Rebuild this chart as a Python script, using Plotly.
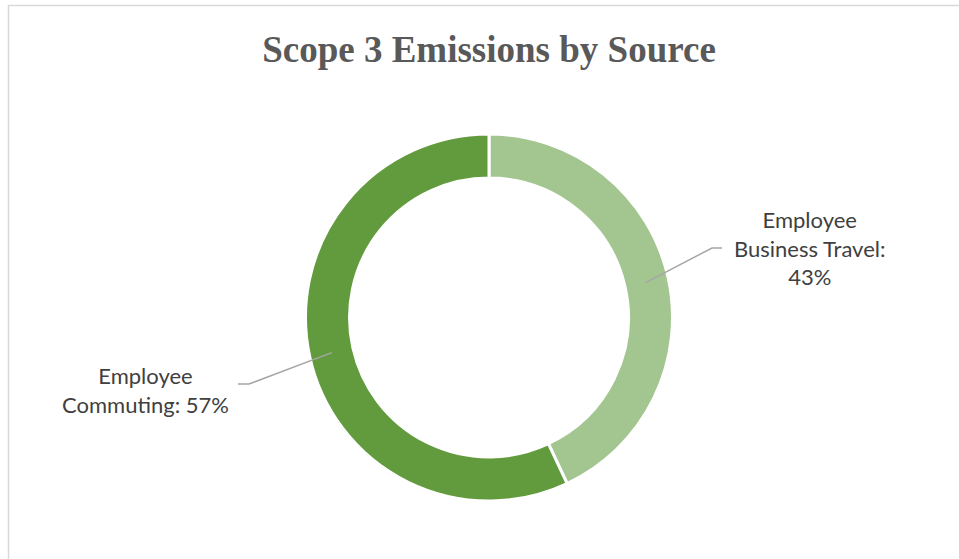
import math
import plotly.graph_objects as go

# Scope 3 emission shares by source
sources = ["Employee Business Travel", "Employee Commuting"]
shares = [43, 57]
colors = ["#A3C590", "#629B3E"]
label_lines = [["Employee", "Business Travel:"], ["Employee", "Commuting:"]]

W, H = 959, 559
cx, cy = 489, 317.5          # donut centre (px)
r_out = 183.5                # outer radius (px)
hole = 0.76

fig = go.Figure(go.Pie(
    labels=sources,
    values=shares,
    sort=False,
    direction="clockwise",
    rotation=0,
    hole=hole,
    marker=dict(colors=colors, line=dict(color="white", width=3)),
    textinfo="none",
    hoverinfo="label+percent",
    showlegend=False,
    domain=dict(x=[(cx - r_out) / W, (cx + r_out) / W],
                y=[(H - cy - r_out) / H, (H - cy + r_out) / H]),
))


def px(x, y):
    return x / W, 1 - y / H


shapes = []
annotations = []

# leader anchor radius (middle of ring) and label placement
r_mid = 161
label_pos = [(809, 248), (145, 390)]
elbow = [(712, 248, 722), (249, 384, 238)]

total = sum(shares)
start = 0.0
for i, v in enumerate(shares):
    mid = (start + v / 2) / total * 2 * math.pi
    start += v
    ax = cx + r_mid * math.sin(mid)
    ay = cy - r_mid * math.cos(mid)
    ex, ey, hx = elbow[i]
    x0, y0 = px(ax, ay)
    x1, y1 = px(ex, ey)
    x2, y2 = px(hx, ey)
    shapes.append(dict(type="path", xref="paper", yref="paper",
                       path=f"M {x0} {y0} L {x1} {y1} L {x2} {y2}",
                       line=dict(color="#A6A6A6", width=1.5)))
    pct = round(v / total * 100)
    lines = list(label_lines[i])
    if i == 0:
        lines.append(f"{pct}%")
    else:
        lines[-1] = f"{lines[-1]} {pct}%"
    lx, ly = label_pos[i]
    tx, ty = px(lx, ly)
    annotations.append(dict(
        x=tx, y=ty, xref="paper", yref="paper",
        text="<br>".join(lines), showarrow=False,
        xanchor="center", yanchor="middle", align="center",
        font=dict(family="Lato, Carlito, Calibri, sans-serif", size=22, color="#404040"),
    ))

# chart-area border
bx0, by0 = px(8.5, 5.5)
shapes.append(dict(type="rect", xref="paper", yref="paper",
                   x0=bx0, y0=-0.05, x1=1.05, y1=by0,
                   line=dict(color="#D9D9D9", width=1.5), fillcolor="rgba(0,0,0,0)"))

fig.update_layout(
    width=W, height=H,
    margin=dict(l=0, r=0, t=0, b=0),
    paper_bgcolor="white",
    plot_bgcolor="white",
    title=dict(text="<b>Scope 3 Emissions by Source</b>",
               x=489 / W, xanchor="center", y=1 - 49 / H, yanchor="middle",
               font=dict(family="Liberation Serif, Times New Roman, serif", size=37, color="#595959")),
    shapes=shapes,
    annotations=annotations,
)

fig.write_html("out.html")
